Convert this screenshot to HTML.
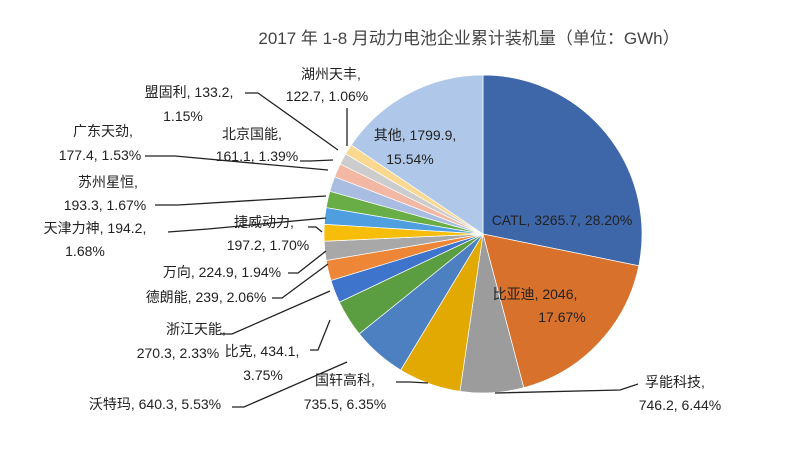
<!DOCTYPE html>
<html><head><meta charset="utf-8"><style>
html,body{margin:0;padding:0;background:#fff;}
svg{display:block;font-family:"Liberation Sans","Noto Sans CJK SC",sans-serif;}
</style></head><body>
<svg id="s" width="787" height="455" viewBox="0 0 787 455" xmlns="http://www.w3.org/2000/svg">
<rect width="787" height="455" fill="#fff"/>
<text x="469" y="44" font-size="17" text-anchor="middle" fill="#444">2017 年 1-8 月动力电池企业累计装机量（单位：GWh）</text>
<g id="pie"></g>
<g stroke="#222" stroke-width="1.3" fill="none">
<polyline points="347,108 347,146"/>
<polyline points="245,93 258,93 338,150"/>
<polyline points="300,161 310,161 333,160"/>
<polyline points="145,156 175,156 328,170"/>
<polyline points="155,205 178,205 326,196"/>
<polyline points="168,232 208,229 326,218"/>
<polyline points="308,227 316,227 322,232"/>
<polyline points="288,273 298,273 326,251"/>
<polyline points="272,298 282,298 328,264"/>
<polyline points="220,334 232,334 330,291"/>
<polyline points="310,350 318,350 330,320"/>
<polyline points="232,407 244,407 347,362"/>
<polyline points="396,382 410,382 428,383"/>
<polyline points="638,384 620,390 495,393"/>
</g>
<g font-size="14" fill="#222" text-anchor="middle">
<text x="331" y="79">湖州天丰,</text><text x="327" y="101">122.7, 1.06%</text>
<text x="189" y="97">盟固利, 133.2,</text><text x="183" y="121">1.15%</text>
<text x="252" y="139">北京国能,</text><text x="257" y="161">161.1, 1.39%</text>
<text x="103" y="136">广东天劲,</text><text x="100" y="160">177.4, 1.53%</text>
<text x="108" y="187">苏州星恒,</text><text x="105" y="210">193.3, 1.67%</text>
<text x="95" y="233">天津力神, 194.2,</text><text x="85" y="256">1.68%</text>
<text x="264" y="227">捷威动力,</text><text x="268" y="250">197.2, 1.70%</text>
<text x="222" y="277">万向, 224.9, 1.94%</text>
<text x="206" y="302">德朗能, 239, 2.06%</text>
<text x="196" y="334">浙江天能,</text><text x="178" y="358">270.3, 2.33%</text>
<text x="262" y="356">比克, 434.1,</text><text x="263" y="380">3.75%</text>
<text x="155" y="409">沃特玛, 640.3, 5.53%</text>
<text x="345" y="385">国轩高科,</text><text x="345" y="409">735.5, 6.35%</text>
<text x="675" y="387">孚能科技,</text><text x="680" y="410">746.2, 6.44%</text>
<text x="415" y="140">其他, 1799.9,</text><text x="410" y="164">15.54%</text>
<text x="562" y="225">CATL, 3265.7, 28.20%</text>
<text x="535" y="299">比亚迪, 2046,</text><text x="562" y="322">17.67%</text>
</g>
</svg>
<script>
var d=[[28.20,"#3e67a9"],[17.67,"#d8712c"],[6.44,"#9c9c9c"],[6.35,"#e1a902"],[5.53,"#4c80c1"],[3.75,"#5b9e41"],[2.33,"#3f74cc"],[2.06,"#ee8638"],[1.94,"#a8a8a8"],[1.70,"#f6be0a"],[1.68,"#4f9fe0"],[1.67,"#69ad47"],[1.53,"#a9bde2"],[1.39,"#f2b8a3"],[1.15,"#cccccc"],[1.06,"#fad88f"],[15.54,"#afc8e9"]];
var tot=0;d.forEach(function(x){tot+=x[0];});
var cx=483,cy=234,r=159,a=-Math.PI/2,g=document.getElementById("pie"),h="";
d.forEach(function(x){var b=a+x[0]/tot*2*Math.PI;
var x1=cx+r*Math.cos(a),y1=cy+r*Math.sin(a),x2=cx+r*Math.cos(b),y2=cy+r*Math.sin(b);
h+='<path d="M'+cx+','+cy+'L'+x1+','+y1+'A'+r+','+r+' 0 '+((b-a)>Math.PI?1:0)+' 1 '+x2+','+y2+'Z" fill="'+x[1]+'" stroke="#fff" stroke-width="0.7"/>';a=b;});
g.innerHTML=h;
</script>
</body></html>
